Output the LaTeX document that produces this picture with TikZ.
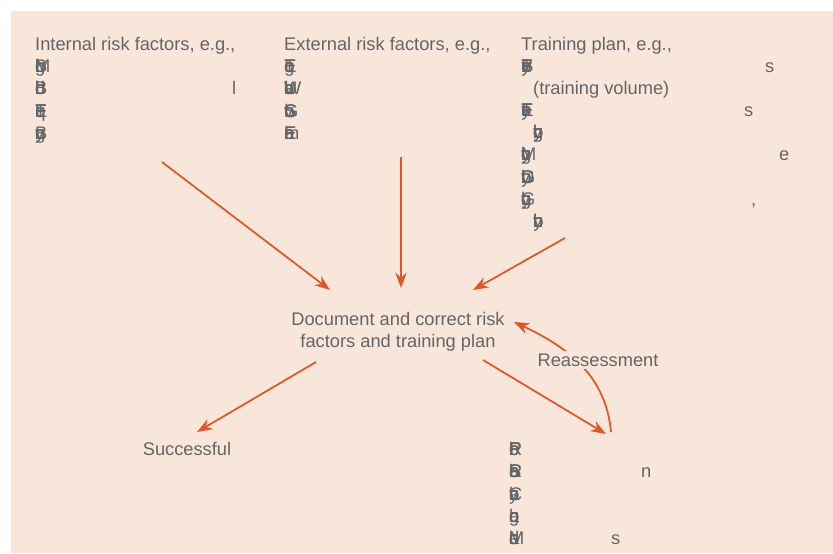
\documentclass[tikz,border=0pt]{standalone}
\usepackage{fontspec}
\setmainfont{Liberation Sans}
\usetikzlibrary{arrows.meta}
\definecolor{peach}{RGB}{249,230,219}
\definecolor{txtgray}{RGB}{100,101,104}
\definecolor{arrorange}{RGB}{224,86,38}
\newlength\pxu
\setlength\pxu{0.03cm}
% letters printed over one another
\newcommand\clump[2]{\clumpi#1\relax #2}
\def\clumpi#1{\ifx#1\relax\else\rlap{#1}\expandafter\clumpi\fi}

\begin{document}
\begin{tikzpicture}[x=0.03cm, y=-0.03cm, > = Stealth,
    flow/.style = {arrorange, line width=1.5pt, -{Stealth[length=4.6mm, width=3.4mm]}},
    txt/.style = {txtgray, inner sep=0pt, font=\fontsize{15.6}{18.78}\selectfont}]

    % background
    \useasboundingbox (0,0) rectangle (833,553);
    \fill[peach] (11,11) rectangle (833,553);

    % texts (anchored at the base of the last line)
    \node[txt, anchor=base west, align=left] (internal) at (35,139) {Internal risk factors, e.g.,\\
      \clump{bgIB}{M}\\
      \makebox[197\pxu][l]{\clump{bdBo}{l}}l\\
      \clump{EqFo}{T}\\
      \clump{yBgo}{n}};
    \node[txt, anchor=base west, align=left] (external) at (284,139) {External risk factors, e.g.,\\
      \clump{TgEo}{o}\\
      \clump{bUoa}{W}\\
      \clump{GbSo}{v}\\
      \clump{FnEa}{m}};
    \node[txt, anchor=base west, align=left] (plan) at (521,227) {Training plan, e.g.,\\
      \makebox[244\pxu][l]{\clump{TByFo}{n}}s\\
      \hspace*{12\pxu}(training volume)\\
      \makebox[223\pxu][l]{\clump{TEyFo}{s}}s\\
      \hspace*{12\pxu}\clump{bhyo}{g}\\
      \makebox[258\pxu][l]{\clump{bgyo}{M}}e\\
      \clump{byGo}{D}\\
      \makebox[230\pxu][l]{\clump{bgyo}{G}},\\
      \hspace*{12\pxu}\clump{btyo}{h}};
    \node[txt, anchor=base, align=center] (document) at (398,347) {Document and correct risk\\factors and training plan};
    \node[txt, anchor=base] (success) at (187,455) {Successful};
    \node[txt, anchor=base west, align=left] (outcome) at (509,544) {\clump{bRoF}{P}\\
      \makebox[132\pxu][l]{\clump{bRoa}{S}}n\\
      \clump{byoa}{C}\\
      \clump{bgoa}{n}\\
      \makebox[102\pxu][l]{\clump{bdoa}{M}}s};

    % arrow ends
    \coordinate (internal-out) at (162,162);
    \coordinate (external-out) at (401,157);
    \coordinate (plan-out) at (565,238);
    \coordinate (document-inl) at (330,290);
    \coordinate (document-inm) at (401,288);
    \coordinate (document-inr) at (473,290);
    \coordinate (document-outl) at (316,362);
    \coordinate (document-outr) at (483,360);
    \coordinate (success-in) at (197,432);
    \coordinate (outcome-in) at (606,434);
    \coordinate (outcome-out) at (611,432);
    \coordinate (document-back) at (514,322);

    % arrows
    \draw[flow] (internal-out) -- (document-inl);
    \draw[flow] (external-out) -- (document-inm);
    \draw[flow] (plan-out) -- (document-inr);
    \draw[flow] (document-outl) -- (success-in);
    \draw[flow] (document-outr) -- (outcome-in);
    \draw[flow] (outcome-out) to[out=95, in=-25] (document-back);
    \node[txt, fill=peach, inner sep=2pt, anchor=base] (reassess) at (598,366) {Reassessment};

    \end{tikzpicture}
\end{document}
